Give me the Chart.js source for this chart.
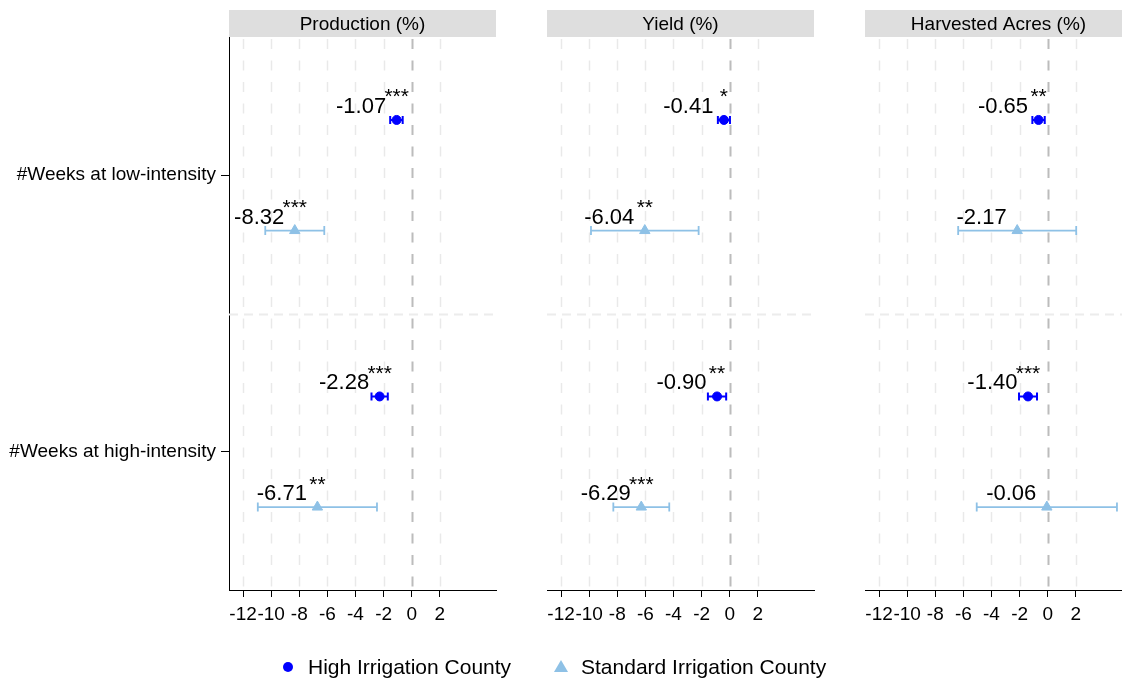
<!DOCTYPE html>
<html>
<head>
<meta charset="utf-8">
<script src="https://cdn.jsdelivr.net/npm/chart.js@4/dist/chart.umd.min.js"></script>
<style>
  html, body { margin: 0; padding: 0; background: #fff; overflow: hidden; width: 1122px; height: 683px; }
  .panel { position: absolute; top: 0; height: 683px; }
  #legend { position: absolute; top: 655px; left: 0; width: 1122px; height: 26px;
            font-family: "Liberation Sans", Arial, Helvetica, sans-serif; font-size: 21px; color: #000; }
  .item { position: absolute; top: 0; line-height: 24px; white-space: nowrap; }
  .dot { position: absolute; width: 10px; height: 10px; border-radius: 50%; background: #0000ff; }
  .tri { position: absolute; width: 0; height: 0; border-left: 7px solid transparent;
         border-right: 7px solid transparent; border-bottom: 12px solid #8ec1e6; }
</style>
</head>
<body>
<div class="panel" style="left:0;width:508px"><canvas id="p0"></canvas></div>
<div class="panel" style="left:527px;width:299px"><canvas id="p1"></canvas></div>
<div class="panel" style="left:845px;width:299px"><canvas id="p2"></canvas></div>
<div id="legend"></div>
<script>
// Outcome panels and regressors
const panelTitles = ['Production (%)', 'Yield (%)', 'Harvested Acres (%)'];
const categories = ['#Weeks at low-intensity', '#Weeks at high-intensity'];
const seriesNames = ['High Irrigation County', 'Standard Irrigation County'];
const xTicks = [-12, -10, -8, -6, -4, -2, 0, 2];

// High irrigation counties: point estimates and confidence bounds, [low, high] per panel
const highEst   = [[-1.07, -2.28], [-0.41, -0.90], [-0.65, -1.40]];
const highLower = [[-1.53, -2.86], [-0.84, -1.55], [-1.09, -2.04]];
const highUpper = [[-0.64, -1.70], [ 0.02, -0.25], [-0.21, -0.76]];
const highStars = [['***', '***'], ['*', '**'], ['**', '***']];

// Standard irrigation counties
const stdEst   = [[-8.32, -6.71], [-6.04, -6.29], [-2.17, -0.06]];
const stdLower = [[-10.42, -10.95], [-9.87, -8.28], [-6.37, -5.05]];
const stdUpper = [[-6.22, -2.47], [-2.21, -4.30], [2.03, 4.93]];
const stdStars = [['***', '**'], ['**', '***'], ['', '']];

const FONT = '"Liberation Sans", Arial, Helvetica, sans-serif';
const BLUE = '#0000ff';
const LIGHT = '#8ec1e6';

const decor = {
  id: 'decor',
  beforeDraw(chart, args, opts) {
    const { ctx, chartArea: a } = chart;
    ctx.save();
    ctx.fillStyle = '#dedede';
    ctx.fillRect(a.left, 10, a.right - a.left, a.top - 10);
    ctx.fillStyle = '#000';
    ctx.font = '19px ' + FONT;
    ctx.textAlign = 'center';
    ctx.textBaseline = 'middle';
    ctx.fillText(opts.title, (a.left + a.right) / 2, (10 + a.top) / 2 + 1);
    ctx.restore();
  },
  beforeDatasetsDraw(chart) {
    const { ctx, chartArea: a } = chart;
    const xs = chart.scales.x, ys = chart.scales.y;
    ctx.save();
    // vertical dashed grid
    ctx.setLineDash([10, 11.5]);
    xs.ticks.forEach(t => {
      const px = Math.round(xs.getPixelForValue(t.value)) + 0.5;
      ctx.strokeStyle = t.value === 0 ? '#bcbcbc' : '#e9e9e9';
      ctx.lineWidth = t.value === 0 ? 2 : 1.5;
      ctx.beginPath(); ctx.moveTo(px, a.top + 2); ctx.lineTo(px, a.bottom); ctx.stroke();
    });
    // divider between the two regressors
    ctx.setLineDash([9, 6]);
    ctx.strokeStyle = '#ececec';
    ctx.lineWidth = 2;
    const py = Math.round(ys.getPixelForValue(1.5)) + 0.5;
    ctx.beginPath(); ctx.moveTo(a.left, py); ctx.lineTo(a.right, py); ctx.stroke();
    ctx.setLineDash([]);
    // confidence intervals
    chart.data.datasets.forEach((ds, i) => {
      const meta = chart.getDatasetMeta(i);
      ctx.strokeStyle = ds.borderColor;
      ctx.lineWidth = ds.ciWidth;
      meta.data.forEach((pt, j) => {
        const x0 = xs.getPixelForValue(ds.lower[j]);
        const x1 = xs.getPixelForValue(ds.upper[j]);
        const y = pt.y, c = ds.capHalf;
        ctx.beginPath();
        ctx.moveTo(x0, y); ctx.lineTo(x1, y);
        ctx.moveTo(x0, y - c); ctx.lineTo(x0, y + c);
        ctx.moveTo(x1, y - c); ctx.lineTo(x1, y + c);
        ctx.stroke();
      });
    });
    ctx.restore();
  },
  afterDatasetsDraw(chart) {
    const { ctx } = chart;
    ctx.save();
    ctx.fillStyle = '#000';
    chart.data.datasets.forEach((ds, i) => {
      const meta = chart.getDatasetMeta(i);
      meta.data.forEach((pt, j) => {
        ctx.font = '22px ' + FONT;
        ctx.textAlign = 'right';
        ctx.textBaseline = 'alphabetic';
        ctx.fillText(ds.data[j].x.toFixed(2), pt.x - 10.5, pt.y - 7);
        if (ds.stars[j]) {
          ctx.font = '21px ' + FONT;
          ctx.textAlign = 'center';
          ctx.fillText(ds.stars[j], pt.x, pt.y - 16.5);
        }
      });
    });
    ctx.restore();
  }
};

function makePanel(k) {
  const first = k === 0;
  const datasets = [
    {
      label: seriesNames[0],
      data: highEst[k].map((v, j) => ({ x: v, y: j + 1 - 0.2 })),
      lower: highLower[k], upper: highUpper[k], stars: highStars[k],
      pointStyle: 'circle', pointRadius: 4.5, borderWidth: 1,
      backgroundColor: BLUE, borderColor: BLUE, ciWidth: 2, capHalf: 4, clip: false
    },
    {
      label: seriesNames[1],
      data: stdEst[k].map((v, j) => ({ x: v, y: j + 1 + 0.2 })),
      lower: stdLower[k], upper: stdUpper[k], stars: stdStars[k],
      pointStyle: 'triangle', pointRadius: 6, borderWidth: 1,
      backgroundColor: LIGHT, borderColor: LIGHT, ciWidth: 1.8, capHalf: 4.5, clip: false
    }
  ];
  const yScale = {
    type: 'linear', min: 0.5, max: 2.5, reverse: true, display: first,
    afterBuildTicks: s => { s.ticks = categories.map((c, i) => ({ value: i + 1 })); },
    ticks: {
      padding: 5, color: '#000', font: { family: FONT, size: 19 },
      callback: v => categories[Math.round(v) - 1]
    },
    grid: { drawOnChartArea: false, drawTicks: true, tickLength: 8, tickColor: '#000', tickWidth: 1 },
    border: { display: true, color: '#000', width: 1 }
  };
  if (first) yScale.afterFit = s => { s.width = 229; };
  return new Chart(document.getElementById('p' + k), {
    type: 'scatter',
    data: { datasets },
    plugins: [decor],
    options: {
      responsive: true,
      maintainAspectRatio: false,
      animation: false,
      events: [],
      layout: { padding: { top: 37, left: first ? 0 : 20, right: 12, bottom: 0 } },
      plugins: {
        legend: { display: false },
        tooltip: { enabled: false },
        decor: { title: panelTitles[k] }
      },
      scales: {
        x: {
          type: 'linear', min: -13, max: 6,
          afterBuildTicks: s => { s.ticks = xTicks.map(v => ({ value: v })); },
          afterFit: s => { s.height = 93; },
          ticks: {
            autoSkip: false, maxRotation: 0, minRotation: 0, padding: 6,
            color: '#000', font: { family: FONT, size: 19 },
            callback: v => String(v)
          },
          grid: { drawOnChartArea: false, drawTicks: true, tickLength: 7, tickColor: '#000', tickWidth: 1 },
          border: { display: true, color: '#000', width: 1 }
        },
        y: yScale
      }
    }
  });
}

[0, 1, 2].forEach(makePanel);

// Legend
const legend = document.getElementById('legend');
const legendSpec = [
  { marker: 'dot', mx: 288, tx: 308 },
  { marker: 'tri', mx: 561, tx: 581 }
];
legendSpec.forEach((s, i) => {
  const m = document.createElement('div');
  m.className = s.marker;
  if (s.marker === 'dot') { m.style.left = (s.mx - 5) + 'px'; m.style.top = '7px'; }
  else { m.style.left = (s.mx - 7) + 'px'; m.style.top = '5px'; }
  legend.appendChild(m);
  const t = document.createElement('div');
  t.className = 'item';
  t.style.left = s.tx + 'px';
  t.textContent = seriesNames[i];
  legend.appendChild(t);
});
</script>
</body>
</html>
